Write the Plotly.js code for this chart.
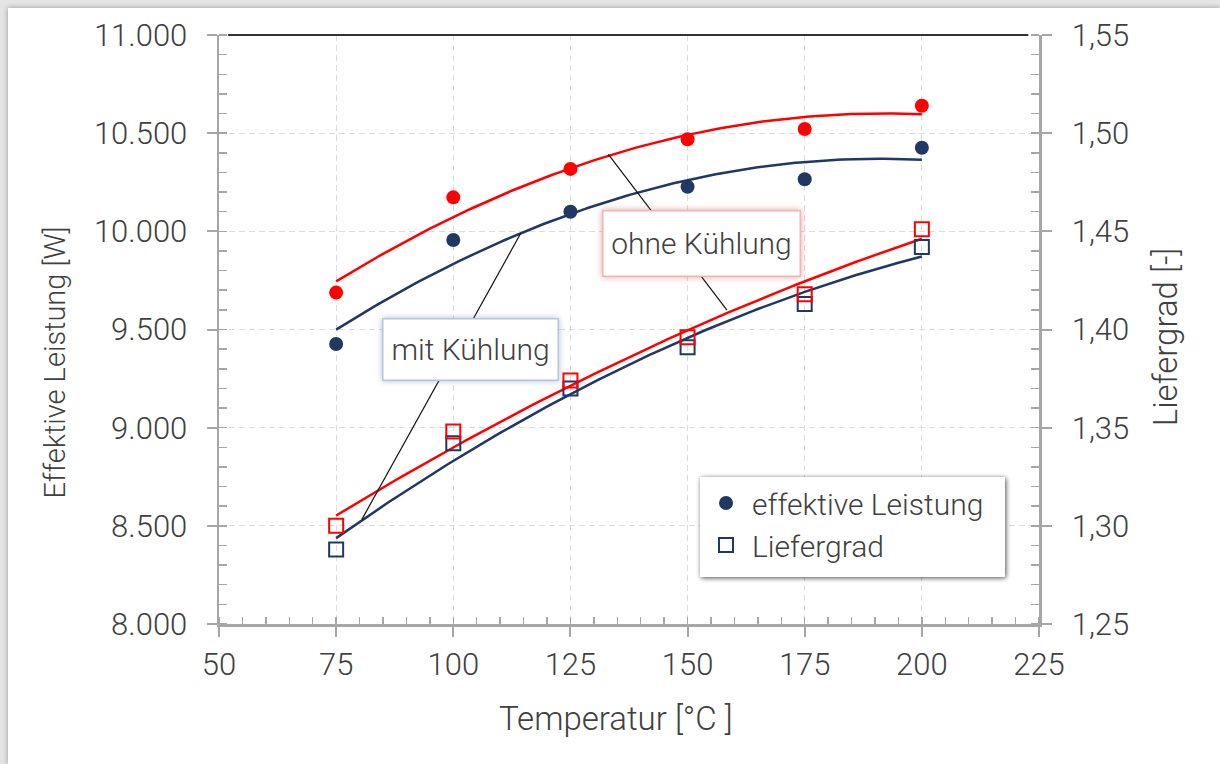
<!DOCTYPE html>
<html>
<head>
<meta charset="utf-8">
<script src="https://cdn.plot.ly/plotly-3.0.1.min.js"></script>
<style>
  html, body { margin: 0; padding: 0; }
  body { width: 1220px; height: 764px; background: #e4e4e4; overflow: hidden; position: relative; }
  #card { position: absolute; left: 8px; top: 8px; width: 1212px; height: 756px; background: #fff;
          box-shadow: 0 0 5px rgba(0,0,0,0.35); }
  #chart { width: 1212px; height: 756px; }
</style>
</head>
<body>
<div id="card"><div id="chart"></div></div>
<script>
// Temperatur [°C]
const temperatur = [75, 100, 125, 150, 175, 200];

// Effektive Leistung [W]
const leistungMit   = [9426, 9956, 10100, 10227, 10265, 10426];
const leistungOhne  = [9688, 10173, 10318, 10469, 10521, 10640];

// Liefergrad [-]
const lieferMit  = [1.288, 1.342, 1.370, 1.391, 1.413, 1.442];
const lieferOhne = [1.300, 1.348, 1.374, 1.396, 1.418, 1.451];

const blau = '#1f3864';
const rot = '#ff0000';
const textFarbe = '#404040';
const FONT = 'Roboto, "Open Sans", sans-serif';

// Quadratic least-squares trendline through the measured points
function quadFit(xs, ys) {
  const n = xs.length;
  let s = [0, 0, 0, 0, 0], t = [0, 0, 0];
  for (let i = 0; i < n; i++) {
    const x = xs[i], y = ys[i];
    for (let k = 0; k < 5; k++) s[k] += Math.pow(x, k);
    for (let k = 0; k < 3; k++) t[k] += y * Math.pow(x, k);
  }
  const A = [[s[0], s[1], s[2], t[0]], [s[1], s[2], s[3], t[1]], [s[2], s[3], s[4], t[2]]];
  for (let c = 0; c < 3; c++) {
    for (let r = c + 1; r < 3; r++) {
      const f = A[r][c] / A[c][c];
      for (let k = c; k < 4; k++) A[r][k] -= f * A[c][k];
    }
  }
  const coef = [0, 0, 0];
  for (let r = 2; r >= 0; r--) {
    let v = A[r][3];
    for (let k = r + 1; k < 3; k++) v -= A[r][k] * coef[k];
    coef[r] = v / A[r][r];
  }
  const lo = Math.min(...xs), hi = Math.max(...xs);
  const px = [], py = [];
  for (let x = lo; x <= hi; x += 1) {
    px.push(x);
    py.push(coef[0] + coef[1] * x + coef[2] * x * x);
  }
  return { x: px, y: py };
}

function trend(xs, ys, color, yaxis) {
  const f = quadFit(xs, ys);
  return { x: f.x, y: f.y, yaxis: yaxis, mode: 'lines', line: { color: color, width: 2.5 },
           showlegend: false, hoverinfo: 'skip' };
}

const traces = [
  trend(temperatur, leistungMit, blau, 'y'),
  trend(temperatur, leistungOhne, rot, 'y'),
  trend(temperatur, lieferMit, blau, 'y2'),
  trend(temperatur, lieferOhne, rot, 'y2'),
  { x: temperatur, y: leistungMit, name: 'effektive Leistung', mode: 'markers', yaxis: 'y',
    marker: { symbol: 'circle', size: 14, color: blau } },
  { x: temperatur, y: lieferMit, name: 'Liefergrad', mode: 'markers', yaxis: 'y2',
    marker: { symbol: 'square-open', size: 14, color: blau, line: { width: 2, color: blau } } },
  { x: temperatur, y: leistungOhne, name: 'effektive Leistung (ohne Kühlung)', mode: 'markers', yaxis: 'y',
    showlegend: false, marker: { symbol: 'circle', size: 14, color: rot } },
  { x: temperatur, y: lieferOhne, name: 'Liefergrad (ohne Kühlung)', mode: 'markers', yaxis: 'y2',
    showlegend: false, marker: { symbol: 'square-open', size: 14, color: rot, line: { width: 2, color: rot } } }
];

const tickFont = { family: FONT, size: 31, color: textFarbe, weight: 300 };
const titelFont = { family: FONT, size: 33, color: textFarbe, weight: 300 };
const boxFont = { family: FONT, size: 30, color: textFarbe, weight: 300 };
const achse = {
  showline: true, linecolor: '#a6a6a6', linewidth: 2.5,
  ticks: 'outside', ticklen: 10, tickwidth: 2, tickcolor: '#a6a6a6',
  tickfont: tickFont, zeroline: false,
  gridcolor: '#dcdcdc', griddash: '6px,4px', gridwidth: 1
};
// inner half of the crossing major ticks
const innen = { showline: false, showgrid: false, zeroline: false, showticklabels: false,
  ticks: 'inside', ticklen: 10, tickwidth: 2, tickcolor: '#a6a6a6' };

const layout = {
  width: 1212, height: 756,
  margin: { l: 211, r: 181, t: 27, b: 140 },
  paper_bgcolor: '#ffffff', plot_bgcolor: '#ffffff',
  separators: ',.',
  font: { family: FONT, color: textFarbe, weight: 300 },
  xaxis: Object.assign({}, achse, {
    range: [50, 225], dtick: 25, tick0: 50, ticklabelstandoff: 1,
    minor: { dtick: 5, ticks: 'inside', ticklen: 7, tickwidth: 1.5, tickcolor: '#a6a6a6', showgrid: false }
  }),
  yaxis: Object.assign({}, achse, {
    range: [8000, 11000], dtick: 500, tick0: 8000, tickformat: ',d', ticklabelstandoff: 13,
    minor: { dtick: 100, ticks: 'inside', ticklen: 8, tickwidth: 1.5, tickcolor: '#a6a6a6', showgrid: false }
  }),
  yaxis2: Object.assign({}, achse, {
    overlaying: 'y', side: 'right', range: [1.25, 1.55], dtick: 0.05, tick0: 1.25,
    tickformat: '.2f', showgrid: false, ticklabelstandoff: 14,
    minor: { dtick: 0.01, ticks: 'inside', ticklen: 8, tickwidth: 1.5, tickcolor: '#a6a6a6', showgrid: false }
  }),
  xaxis3: Object.assign({}, innen, { overlaying: 'x', anchor: 'y', range: [50, 225], dtick: 25, tick0: 50 }),
  yaxis3: Object.assign({}, innen, { overlaying: 'y', anchor: 'x', side: 'left', range: [8000, 11000], dtick: 500, tick0: 8000 }),
  yaxis4: Object.assign({}, innen, { overlaying: 'y', anchor: 'x', side: 'right', range: [1.25, 1.55], dtick: 0.05, tick0: 1.25 }),
  legend: {
    x: 0.5866, y: 0.2496, xanchor: 'left', yanchor: 'top',
    bgcolor: 'rgba(0,0,0,0)', borderwidth: 0, itemwidth: 42,
    font: { family: FONT, size: 30, color: textFarbe, weight: 300 }
  },
  shapes: [
    // top frame line
    { type: 'line', xref: 'paper', yref: 'paper', x0: 0.011, x1: 0.987, y0: 1, y1: 1,
      line: { color: '#333333', width: 2 } },
    // leader lines of the two callouts
    { type: 'line', xref: 'x', yref: 'y', x0: 133.1, y0: 10392, x1: 158.4, y1: 9599,
      line: { color: '#111111', width: 1.2 }, layer: 'above' },
    { type: 'line', xref: 'x', yref: 'y', x0: 114.4, y0: 9990, x1: 80.5, y1: 8533,
      line: { color: '#111111', width: 1.2 }, layer: 'above' },
    // legend panel
    { type: 'rect', xref: 'paper', yref: 'paper', x0: 0.5866, x1: 0.9585, y0: 0.0798, y1: 0.2496,
      fillcolor: '#ffffff', line: { width: 0 }, layer: 'above', name: 'legendenfeld' }
  ],
  annotations: [
    { text: 'ohne Kühlung', x: 152.9, y: 9938, xref: 'x', yref: 'y', showarrow: false,
      width: 190, height: 58, borderpad: 3, bgcolor: '#ffffff', bordercolor: '#f0b4b4', borderwidth: 1.5,
      font: boxFont },
    { text: 'mit Kühlung', x: 103.6, y: 9397, xref: 'x', yref: 'y', showarrow: false,
      width: 168, height: 54, borderpad: 3, bgcolor: '#ffffff', bordercolor: '#b7c5da', borderwidth: 1.5,
      font: boxFont },
    // axis titles
    { text: 'Effektive Leistung [W]', xref: 'paper', yref: 'paper', x: -0.1995, y: 0.4448,
      textangle: -90, showarrow: false, xanchor: 'center', yanchor: 'middle',
      font: Object.assign({}, titelFont, { size: 29 }) },
    { text: 'Liefergrad [-]', xref: 'paper', yref: 'paper', x: 1.1537, y: 0.487,
      textangle: -90, showarrow: false, xanchor: 'center', yanchor: 'middle', font: titelFont },
    { text: 'Temperatur [°C ]', xref: 'paper', yref: 'paper', x: 0.484, y: -0.1596,
      showarrow: false, xanchor: 'center', yanchor: 'middle', font: titelFont }
  ]
};

const gd = document.getElementById('chart');
Plotly.newPlot(gd, traces, layout, { displayModeBar: false, staticPlot: true }).then(function () {
  // soft shadows around the legend panel and callout boxes
  const svgNS = 'http://www.w3.org/2000/svg';
  const svgs = gd.querySelectorAll('svg.main-svg');
  function addFilter(defs, id, dx, dy, sd, color, op) {
    const f = document.createElementNS(svgNS, 'filter');
    f.setAttribute('id', id);
    f.setAttribute('x', '-30%'); f.setAttribute('y', '-30%');
    f.setAttribute('width', '160%'); f.setAttribute('height', '160%');
    const d = document.createElementNS(svgNS, 'feDropShadow');
    d.setAttribute('dx', dx); d.setAttribute('dy', dy); d.setAttribute('stdDeviation', sd);
    d.setAttribute('flood-color', color); d.setAttribute('flood-opacity', op);
    f.appendChild(d);
    defs.appendChild(f);
  }
  svgs.forEach(function (s, i) {
    const defs = s.querySelector('defs') || s.insertBefore(document.createElementNS(svgNS, 'defs'), s.firstChild);
    addFilter(defs, 'schattenLegende' + i, 1, 1, 2.5, '#000000', 0.7);
    addFilter(defs, 'glutRot' + i, 0, 0, 3, '#e06060', 0.6);
    addFilter(defs, 'glutBlau' + i, 0, 0, 3, '#7f97bd', 0.6);
  });
  function ownerIndex(el) {
    return Array.prototype.indexOf.call(svgs, el.ownerSVGElement);
  }
  const panelIndex = layout.shapes.length - 1;
  const panel = gd.querySelector('.layer-above .shapelayer path[data-index="' + panelIndex + '"]');
  if (panel) panel.setAttribute('filter', 'url(#schattenLegende' + ownerIndex(panel) + ')');
  const ann = gd.querySelectorAll('.annotation');
  if (ann[0]) { const r = ann[0].querySelector('rect.bg'); if (r) r.setAttribute('filter', 'url(#glutRot' + ownerIndex(r) + ')'); }
  if (ann[1]) { const r = ann[1].querySelector('rect.bg'); if (r) r.setAttribute('filter', 'url(#glutBlau' + ownerIndex(r) + ')'); }
});
</script>
</body>
</html>
